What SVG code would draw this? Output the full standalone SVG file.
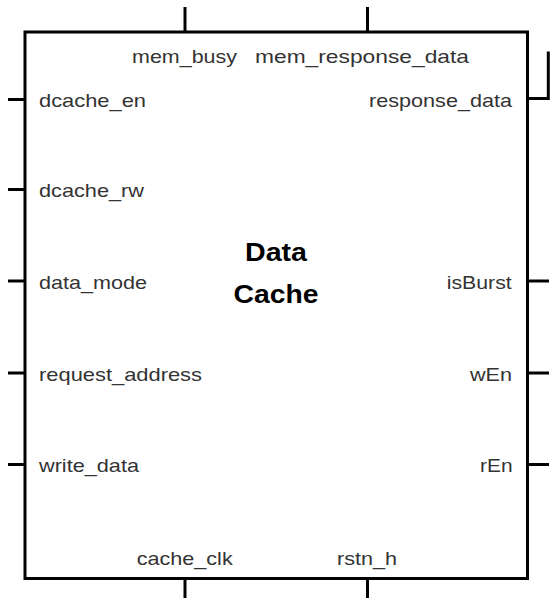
<svg xmlns="http://www.w3.org/2000/svg" width="551" height="598" viewBox="0 0 551 598">
  <style>
    .box { fill: #ffffff; stroke: #000000; stroke-width: 3; }
    .wire { fill: none; stroke: #000000; stroke-width: 3; }
    .lbl { font-family: "Liberation Sans", Arial, sans-serif; font-size: 18.5px; fill: #333333; }
    .title { font-family: "Liberation Sans", Arial, sans-serif; font-size: 25px; font-weight: bold; fill: #000000; text-anchor: middle; }
    .end { text-anchor: end; }
  </style>
  <rect width="551" height="598" fill="#ffffff"/>
  <g id="connectors">
    <line class="wire" x1="185" y1="7" x2="185" y2="32"/>
    <line class="wire" x1="367.5" y1="7" x2="367.5" y2="32"/>
    <polyline class="wire" points="527.5,98.5 548.3,98.5 548.3,51.5"/>
    <line class="wire" x1="8" y1="99.5" x2="25" y2="99.5"/>
    <line class="wire" x1="8" y1="189.5" x2="25" y2="189.5"/>
    <line class="wire" x1="8" y1="281" x2="25" y2="281"/>
    <line class="wire" x1="8" y1="373" x2="25" y2="373"/>
    <line class="wire" x1="8" y1="464.5" x2="25" y2="464.5"/>
    <line class="wire" x1="527.5" y1="281" x2="549" y2="281"/>
    <line class="wire" x1="527.5" y1="373" x2="549" y2="373"/>
    <line class="wire" x1="527.5" y1="464.5" x2="549" y2="464.5"/>
    <line class="wire" x1="185" y1="578.5" x2="185" y2="598"/>
    <line class="wire" x1="367.5" y1="578.5" x2="367.5" y2="598"/>
  </g>
  <g id="data-cache">
    <rect class="box" x="25" y="32" width="502.5" height="546.5"/>
    <text class="title" x="276" y="261" textLength="62" lengthAdjust="spacingAndGlyphs">Data</text>
    <text class="title" x="276" y="303" textLength="85" lengthAdjust="spacingAndGlyphs">Cache</text>
    <text class="lbl" x="132" y="63" textLength="105" lengthAdjust="spacingAndGlyphs">mem_busy</text>
    <text class="lbl" x="255" y="63" textLength="214" lengthAdjust="spacingAndGlyphs">mem_response_data</text>
    <text class="lbl" x="39" y="107" textLength="107" lengthAdjust="spacingAndGlyphs">dcache_en</text>
    <text class="lbl" x="369" y="106.5" textLength="143" lengthAdjust="spacingAndGlyphs">response_data</text>
    <text class="lbl" x="39" y="197" textLength="105" lengthAdjust="spacingAndGlyphs">dcache_rw</text>
    <text class="lbl" x="39" y="288.5" textLength="108" lengthAdjust="spacingAndGlyphs">data_mode</text>
    <text class="lbl" x="446.7" y="288.5" textLength="65" lengthAdjust="spacingAndGlyphs">isBurst</text>
    <text class="lbl" x="39" y="381" textLength="163" lengthAdjust="spacingAndGlyphs">request_address</text>
    <text class="lbl" x="470" y="380.5" textLength="42" lengthAdjust="spacingAndGlyphs">wEn</text>
    <text class="lbl" x="39" y="472" textLength="100" lengthAdjust="spacingAndGlyphs">write_data</text>
    <text class="lbl" x="480" y="472" textLength="32.5" lengthAdjust="spacingAndGlyphs">rEn</text>
    <text class="lbl" x="136.7" y="565" textLength="96" lengthAdjust="spacingAndGlyphs">cache_clk</text>
    <text class="lbl" x="337" y="565" textLength="60" lengthAdjust="spacingAndGlyphs">rstn_h</text>
  </g>
</svg>
